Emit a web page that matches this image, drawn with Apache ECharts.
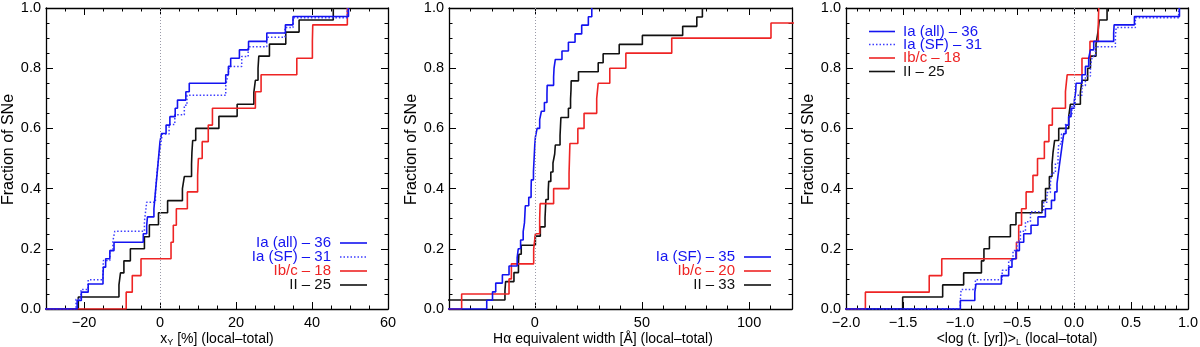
<!DOCTYPE html>
<html><head><meta charset="utf-8">
<script src="https://cdn.jsdelivr.net/npm/echarts@6/dist/echarts.min.js"></script>
<style>html,body{margin:0;padding:0;background:#fff}#c{width:1200px;height:347px}</style>
</head><body><div id="c"></div>
<script>
// ---------- DATA (cumulative step points: [x at jump, fraction after jump]) ----------
// Panel 1: x_Y [%]
const p1IaAll = [[-21.8,.028],[-20.7,.056],[-18.9,.083],[-15.0,.111],[-14.9,.139],[-14.3,.167],[-13.2,.194],[-12.1,.222],[-4.4,.25],[-3.5,.278],[-3.3,.306],[-1.6,.333],[-1.4,.361],[-1.2,.389],[-1.0,.417],[-0.8,.444],[-0.6,.472],[-0.4,.5],[-0.2,.528],[0.0,.556],[0.4,.583],[1.6,.611],[2.6,.639],[4.0,.667],[4.6,.694],[6.8,.722],[7.7,.75],[17.3,.778],[18.0,.806],[18.6,.833],[20.9,.861],[23.3,.889],[28.1,.917],[33.0,.944],[35.0,.972],[49.6,1.0]];
const p1IaSF = [[-22.1,.032],[-20.8,.065],[-18.9,.097],[-15.0,.129],[-14.9,.161],[-13.2,.194],[-12.4,.226],[-11.9,.258],[-4.1,.29],[-3.8,.323],[-3.5,.355],[-1.2,.387],[-1.0,.419],[-0.8,.452],[-0.5,.484],[-0.2,.516],[0.2,.548],[0.6,.581],[2.4,.613],[3.9,.645],[6.4,.677],[7.1,.71],[17.3,.742],[17.8,.774],[18.3,.806],[21.5,.839],[23.2,.871],[28.1,.903],[32.9,.935],[35.0,.968],[49.3,1.0]];
const p1Ibc = [[-8.9,.056],[-7.3,.111],[-5.0,.167],[2.9,.222],[3.5,.278],[4.3,.333],[7.2,.389],[9.9,.444],[10.1,.5],[11.1,.556],[12.7,.611],[13.8,.667],[25.1,.722],[26.6,.778],[36.0,.833],[40.1,.889],[40.2,.944],[49.3,1.0]];
const p1II = [[-21.5,.04],[-10.8,.08],[-10.4,.12],[-9.5,.16],[-7.8,.2],[-4.1,.24],[-2.8,.28],[-0.4,.32],[2.0,.36],[5.9,.4],[6.4,.44],[8.3,.48],[8.4,.52],[8.6,.56],[9.4,.6],[15.5,.64],[20.3,.68],[24.7,.72],[25.1,.76],[25.8,.8],[26.0,.84],[28.8,.88],[33.1,.92],[36.6,.96],[45.6,1.0]];
// Panel 2: H-alpha equivalent width
const p2IaSF = [[-22.4,.029],[-19.7,.057],[-18.2,.086],[-15.1,.114],[-12.0,.143],[-8.2,.171],[-7.7,.2],[-6.6,.229],[-5.4,.257],[-4.8,.286],[-4.6,.314],[-4.4,.343],[-2.8,.371],[-1.7,.4],[-1.6,.429],[-0.6,.457],[-0.4,.486],[-0.2,.514],[0.0,.543],[0.3,.571],[1.1,.6],[2.3,.629],[3.1,.657],[4.5,.686],[5.7,.714],[5.8,.743],[8.8,.771],[9.0,.8],[9.6,.829],[12.7,.857],[15.7,.886],[18.8,.914],[21.9,.943],[25.0,.971],[26.6,1.0]];
const p2Ibc = [[-34.1,.05],[-12.0,.1],[-10.9,.15],[-0.5,.2],[0.3,.25],[2.3,.3],[2.5,.35],[8.8,.4],[16.0,.45],[16.2,.5],[16.4,.55],[20.1,.6],[23.0,.65],[28.9,.7],[29.6,.75],[35.0,.8],[42.5,.85],[63.9,.9],[110.2,.95],[130,1.0]];
const p2II = [[-45,.03],[-13.9,.061],[-13.6,.091],[-9.7,.121],[-7.6,.152],[-7.4,.182],[-6.3,.212],[0.3,.242],[2.6,.273],[4.8,.303],[5.0,.333],[5.2,.364],[6.3,.394],[6.5,.424],[7.5,.455],[8.5,.485],[9.3,.515],[9.6,.545],[11.8,.576],[12.0,.606],[12.2,.636],[15.7,.667],[16.7,.697],[16.9,.727],[17.0,.758],[20.4,.788],[29.6,.818],[31.9,.848],[39.4,.879],[50.2,.909],[69.0,.939],[75.6,.97],[78.2,1.0]];
// Panel 3: <log t>_L
const p3IaAll = [[-0.997,.028],[-0.87,.056],[-0.86,.083],[-0.637,.111],[-0.573,.139],[-0.544,.167],[-0.509,.194],[-0.479,.222],[-0.441,.25],[-0.377,.278],[-0.316,.306],[-0.251,.333],[-0.198,.361],[-0.169,.389],[-0.149,.417],[-0.14,.444],[-0.13,.472],[-0.12,.5],[-0.11,.528],[-0.1,.556],[-0.09,.583],[-0.07,.611],[-0.047,.639],[-0.026,.667],[0.003,.694],[0.015,.722],[0.018,.75],[0.07,.778],[0.1,.806],[0.129,.833],[0.144,.861],[0.173,.889],[0.348,.917],[0.352,.944],[0.53,.972],[0.925,1.0]];
const p3IaSF = [[-0.997,.032],[-0.99,.065],[-0.865,.097],[-0.63,.129],[-0.573,.161],[-0.535,.194],[-0.5,.226],[-0.47,.258],[-0.426,.29],[-0.382,.323],[-0.266,.355],[-0.237,.387],[-0.207,.419],[-0.195,.452],[-0.163,.484],[-0.14,.516],[-0.134,.548],[-0.11,.581],[-0.075,.613],[-0.046,.645],[-0.018,.677],[0.01,.71],[0.07,.742],[0.1,.774],[0.144,.806],[0.16,.839],[0.188,.871],[0.363,.903],[0.37,.935],[0.538,.968],[0.918,1.0]];
const p3Ibc = [[-1.83,.056],[-1.27,.111],[-1.16,.167],[-0.505,.222],[-0.485,.278],[-0.46,.333],[-0.42,.389],[-0.36,.444],[-0.32,.5],[-0.26,.556],[-0.22,.611],[-0.19,.667],[-0.075,.722],[-0.06,.778],[0.07,.833],[0.14,.889],[0.213,.944],[0.217,1.0]];
const p3II = [[-1.503,.04],[-1.152,.08],[-0.968,.12],[-0.812,.16],[-0.79,.2],[-0.742,.24],[-0.558,.28],[-0.509,.32],[-0.28,.36],[-0.25,.4],[-0.216,.44],[-0.193,.48],[-0.184,.52],[-0.17,.56],[-0.134,.6],[-0.046,.64],[-0.032,.68],[0.056,.72],[0.07,.76],[0.12,.8],[0.144,.84],[0.193,.88],[0.21,.92],[0.222,.96],[0.29,1.0]];

// tick labels / ranges
const p1Ticks = [-20, 0, 20, 40, 60];
const p2Ticks = [0, 50, 100];
const p3Ticks = [-2, -1.5, -1, -0.5, 0, 0.5, 1];
const yTicks = [0, 0.2, 0.4, 0.6, 0.8, 1.0];
const legend1 = ['Ia (all) \u2013 36', 'Ia (SF) \u2013 31', 'Ib/c \u2013 18', 'II \u2013 25'];
const legend2 = ['Ia (SF) \u2013 35', 'Ib/c \u2013 20', 'II \u2013 33'];
const legend3 = ['Ia (all) \u2013 36', 'Ia (SF) \u2013 31', 'Ib/c \u2013 18', 'II \u2013 25'];

// ---------- STYLE ----------
const FONT = "'Liberation Sans', Arial, Helvetica, sans-serif";
const BLUE = '#1414f0', BLUE_DOT = '#3c3cff', RED = '#ee2424', BLACK = '#111111';
const TICK_FS = 14.5, NAME_FS = 14, YNAME_FS = 16, LEG_FS = 15;

const grids = [
  {left: 46, top: 8, width: 342, height: 301, outerBoundsMode: 'none', containLabel: false},
  {left: 449, top: 8, width: 343, height: 301, outerBoundsMode: 'none', containLabel: false},
  {left: 846, top: 8, width: 342, height: 301, outerBoundsMode: 'none', containLabel: false}
];
const minus = s => String(s).replace('-', '\u2212');

const panels = [
  {min: -30, max: 60, minor: 5, majors: p1Ticks, fmt: v => minus(v),
   name: 'x{s|Y} [%] (local\u2013total)', namePad: [0,0,0,0]},
  {min: -40, max: 120, minor: 10, majors: p2Ticks, fmt: v => minus(v),
   name: 'H\u03b1 equivalent width [\u00c5] (local\u2013total)', namePad: [0,35,0,0]},
  {min: -2, max: 1, minor: 0.1, majors: p3Ticks, fmt: v => minus(v.toFixed(1)),
   name: '<log (t. [yr])>{s|L} (local\u2013total)', namePad: [0,0,0,0]}
];

const lineBlack = {color: '#000', width: 1.3};
const tickStyle = {color: '#000', width: 1};
const xAxes = [], yAxes = [];
panels.forEach((p, g) => {
  const base = {gridIndex: g, type: 'value', min: p.min, max: p.max, splitLine: {show: false}, silent: true};
  xAxes.push(Object.assign({}, base, {position: 'bottom', interval: p.minor,
    axisLine: {show: true, onZero: false, lineStyle: lineBlack},
    axisTick: {show: true, inside: true, length: 3.5, lineStyle: tickStyle},
    axisLabel: {show: false}}));
  xAxes.push(Object.assign({}, base, {position: 'bottom',
    axisLine: {show: false, onZero: false},
    axisTick: {show: true, inside: true, length: 7, customValues: p.majors, lineStyle: tickStyle},
    axisLabel: {show: true, customValues: p.majors, formatter: p.fmt, color: '#000',
      fontSize: TICK_FS, fontFamily: FONT, margin: 6, showMinLabel: true, showMaxLabel: true},
    name: p.name, nameLocation: 'middle', nameGap: 23, nameMoveOverlap: false,
    nameTextStyle: {color: '#000', fontSize: NAME_FS, fontFamily: FONT, padding: p.namePad,
      rich: {s: {fontSize: 9, fontFamily: FONT, color: '#000', padding: [6, 0, 0, 0]}}}}));
  xAxes.push(Object.assign({}, base, {position: 'top', interval: p.minor,
    axisLine: {show: true, onZero: false, lineStyle: lineBlack},
    axisTick: {show: true, inside: true, length: 3.5, lineStyle: tickStyle},
    axisLabel: {show: false}}));
  xAxes.push(Object.assign({}, base, {position: 'top',
    axisLine: {show: false, onZero: false},
    axisTick: {show: true, inside: true, length: 7, customValues: p.majors, lineStyle: tickStyle},
    axisLabel: {show: false}}));

  const ybase = {gridIndex: g, type: 'value', min: 0, max: 1, interval: 0.2, splitLine: {show: false}, silent: true,
    axisLine: {show: true, onZero: false, lineStyle: lineBlack},
    axisTick: {show: true, inside: true, length: 7, lineStyle: tickStyle},
    minorTick: {show: true, splitNumber: 4, length: 3.5, lineStyle: tickStyle}};
  yAxes.push(Object.assign({}, ybase, {position: 'left',
    axisLabel: {show: true, customValues: yTicks, formatter: v => v.toFixed(1), color: '#000', fontSize: TICK_FS, fontFamily: FONT, margin: 5},
    name: 'Fraction of SNe', nameLocation: 'middle', nameGap: 29, nameMoveOverlap: false,
    nameTextStyle: {color: '#000', fontSize: YNAME_FS, fontFamily: FONT, padding: [0, 0, 0, 18]}}));
  yAxes.push(Object.assign({}, ybase, {position: 'right', axisLabel: {show: false}}));
});

function steps(arr, axisMin) {
  const start = Math.min(axisMin, arr[0][0]) - 1;
  return [[start, 0]].concat(arr);
}
function mkSeries(g, arr, color, dotted, zeroLine) {
  const s = {
    type: 'line', xAxisIndex: g * 4, yAxisIndex: g * 2, step: 'end',
    data: steps(arr, panels[g].min), showSymbol: false, symbol: 'none', silent: true, clip: true,
    lineStyle: {color: color, width: dotted ? 1.5 : 1.6, type: dotted ? [1.5, 2] : 'solid'},
    emphasis: {disabled: true}
  };
  if (zeroLine) {
    s.markLine = {silent: true, symbol: ['none', 'none'], label: {show: false},
      lineStyle: {color: '#9a9aa8', type: [1, 2], width: 1}, emphasis: {disabled: true},
      data: [{xAxis: 0}], animation: false};
  }
  return s;
}

const series = [
  mkSeries(0, p1II, BLACK, false, true),
  mkSeries(0, p1Ibc, RED, false),
  mkSeries(0, p1IaSF, BLUE_DOT, true),
  mkSeries(0, p1IaAll, BLUE, false),
  mkSeries(1, p2II, BLACK, false, true),
  mkSeries(1, p2Ibc, RED, false),
  mkSeries(1, p2IaSF, BLUE, false),
  mkSeries(2, p3II, BLACK, false, true),
  mkSeries(2, p3Ibc, RED, false),
  mkSeries(2, p3IaSF, BLUE_DOT, true),
  mkSeries(2, p3IaAll, BLUE, false)
];

const graphics = [];
function legendRow(text, tx, ty, align, lx1, lx2, textColor, lineColor, dotted) {
  graphics.push({type: 'text', x: tx, y: ty, silent: true,
    style: {text: text, fill: textColor, font: LEG_FS + 'px ' + FONT,
      align: align, textAlign: align, verticalAlign: 'middle', textVerticalAlign: 'middle'}});
  graphics.push({type: 'line', silent: true, shape: {x1: lx1, y1: ty, x2: lx2, y2: ty},
    style: {stroke: lineColor, lineWidth: 1.6, lineDash: dotted ? [1.5, 2] : null}});
}
const l1Colors = [[BLUE, BLUE, false], [BLUE, BLUE_DOT, true], [RED, RED, false], [BLACK, BLACK, false]];
const l1Y = [243, 257, 271, 285];
legend1.forEach((t, i) => legendRow(t, 331, l1Y[i], 'right', 340, 367, l1Colors[i][0], l1Colors[i][1], l1Colors[i][2]));
const l2Colors = [[BLUE, BLUE, false], [RED, RED, false], [BLACK, BLACK, false]];
const l2Y = [257, 271, 285];
legend2.forEach((t, i) => legendRow(t, 735, l2Y[i], 'right', 744, 771, l2Colors[i][0], l2Colors[i][1], l2Colors[i][2]));
const l3Y = [31.5, 44.5, 58, 71.5];
legend3.forEach((t, i) => legendRow(t, 903, l3Y[i], 'left', 869, 895, l1Colors[i][0], l1Colors[i][1], l1Colors[i][2]));

const chart = echarts.init(document.getElementById('c'), null, {renderer: 'canvas'});
chart.setOption({
  animation: false,
  backgroundColor: '#fff',
  grid: grids,
  xAxis: xAxes,
  yAxis: yAxes,
  series: series,
  graphic: graphics
});
</script>
</body></html>
